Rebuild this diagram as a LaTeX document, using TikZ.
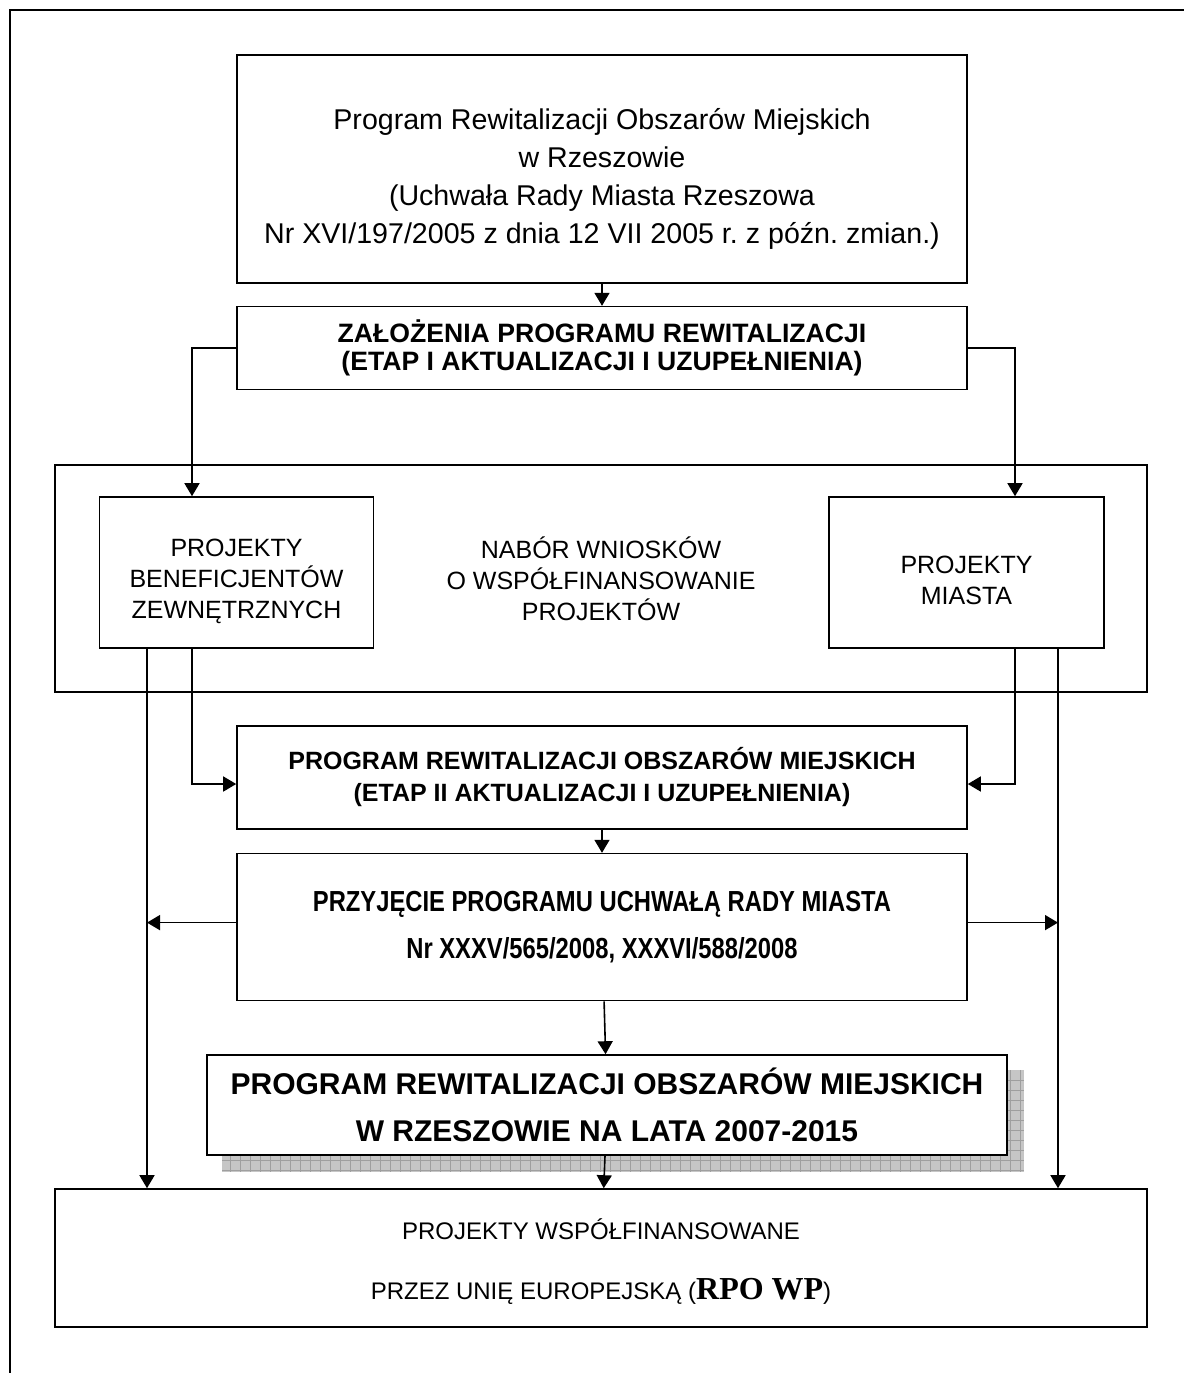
\documentclass[tikz,border=0pt]{standalone}
\usepackage{fontspec}
\setmainfont{Liberation Sans}
\newfontfamily\narrowfont[FakeStretch=0.82]{Liberation Sans}
\newfontfamily\seriffont{Liberation Serif}
\usetikzlibrary{arrows.meta,positioning,backgrounds}
\frenchspacing
\newcommand\lowr[1]{\rule{0pt}{#1}}

\begin{document}
\begin{tikzpicture}[
    x=0.5pt,y=-0.5pt,
    box/.style={draw,rectangle,line width=0.8pt,inner sep=0pt,align=center,fill=white},
    wide/.style={box,minimum width=365pt},
    side/.style={box,minimum width=137pt,minimum height=75.5pt,font=\fontsize{12.5}{15.5}\selectfont},
    link/.style={draw,line width=0.8pt,-{Triangle[length=6.5pt,width=7.5pt]}}
  ]
  \useasboundingbox (0,0) rectangle (1184,1373);

  %page frame
  \draw[line width=0.9pt] (10,1373) -- (10,10) -- (1184,10);

  %program chain
  \node[wide,minimum height=114pt,font=\fontsize{14.3}{19}\selectfont] (top) at (602,169)
    {\lowr{20pt}Program Rewitalizacji Obszarów Miejskich\\w Rzeszowie\\(Uchwała Rady Miasta Rzeszowa\\Nr XVI/197/2005 z dnia 12 VII 2005 r. z późn. zmian.)};
  \node[wide,minimum height=41.5pt,below=11pt of top,font=\fontsize{13.3}{14}\selectfont\bfseries] (zal)
    {ZAŁOŻENIA PROGRAMU REWITALIZACJI\\(ETAP I AKTUALIZACJI I UZUPEŁNIENIA)};

  %nabor
  \node[box,fill=none,minimum width=546pt,minimum height=113.5pt,font=\fontsize{12.5}{15.5}\selectfont] (nabor) at (601,578.5)
    {NABÓR WNIOSKÓW\\O WSPÓŁFINANSOWANIE\\PROJEKTÓW};
  \node[side] (benef) at (236.5,572.5) {\lowr{18pt}PROJEKTY\\BENEFICJENTÓW\\ZEWNĘTRZNYCH};
  \node[side,minimum width=137.5pt] (miasta) at (966.5,572.5) {\lowr{17pt}PROJEKTY\\MIASTA};

  \node[wide,minimum height=51.5pt,font=\fontsize{12.5}{16}\selectfont\bfseries] (prog2) at (602,777.5)
    {PROGRAM REWITALIZACJI OBSZARÓW MIEJSKICH\\(ETAP II AKTUALIZACJI I UZUPEŁNIENIA)};
  \node[wide,minimum height=73.5pt,below=11.5pt of prog2,font=\fontsize{14.5}{23.5}\narrowfont\bfseries] (przyj)
    {PRZYJĘCIE PROGRAMU UCHWAŁĄ RADY MIASTA\\Nr XXXV/565/2008, XXXVI/588/2008};
  \node[box,minimum width=400pt,minimum height=50pt,font=\fontsize{15}{23.5}\selectfont\bfseries] (lata) at (607,1105)
    {PROGRAM REWITALIZACJI OBSZARÓW MIEJSKICH\\W RZESZOWIE NA LATA 2007-2015};
  \node[box,minimum width=546pt,minimum height=69pt,font=\fontsize{12}{30}\selectfont] (ue) at (601,1258)
    {\lowr{14pt}PROJEKTY WSPÓŁFINANSOWANE\\PRZEZ UNIĘ EUROPEJSKĄ ({\seriffont\bfseries\fontsize{16}{30}\selectfont RPO WP})};

  %shadow
  \begin{scope}[on background layer]
    \fill[gray!45] ([shift={(8pt,-8pt)}]lata.south west) rectangle ([shift={(8pt,-8pt)}]lata.north east);
    \clip ([shift={(8pt,-8pt)}]lata.south west) rectangle ([shift={(8pt,-8pt)}]lata.north east);
    \draw[gray!75,line width=0.3pt,step=5pt] ([shift={(8pt,-8pt)}]lata.south west) grid ([shift={(8pt,-8pt)}]lata.north east);
  \end{scope}

  %arrows
  \coordinate (lout) at ([xshift=-44.75pt]benef.south);
  \coordinate (rout) at ([xshift=45.75pt]miasta.south);
  \draw[link] (top) -- (zal);
  \draw[link] (zal.west) -| ([xshift=-22.25pt]benef.north);
  \draw[link] (zal.east) -| ([xshift=24.25pt]miasta.north);
  \draw[link] ([xshift=-22.25pt]benef.south) |- ([yshift=-3.25pt]prog2.west);
  \draw[link] ([xshift=24.25pt]miasta.south) |- ([yshift=-3.25pt]prog2.east);
  \draw[link] (lout) -- (lout |- ue.north);
  \draw[link] (rout) -- (rout |- ue.north);
  \draw[link] (prog2) -- (przyj);
  \draw[link] ([yshift=2.25pt]przyj.west) -- ([yshift=2.25pt]przyj.west -| lout);
  \draw[link] ([yshift=2.25pt]przyj.east) -- ([yshift=2.25pt]przyj.east -| rout);
  \draw[link] (przyj) -- (lata);
  \draw[link] (lata) -- (ue);
\end{tikzpicture}
\end{document}
